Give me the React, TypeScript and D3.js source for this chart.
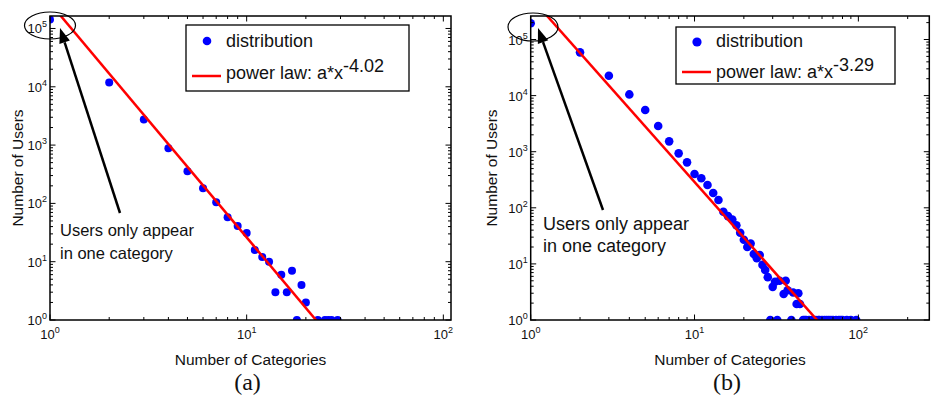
import React from 'react';
import * as d3 from 'd3';

// panel (a): number of categories per user vs number of users
const catsA = [1, 2, 3, 4, 5, 6, 7, 8, 9, 10, 11, 12, 13, 14, 15, 16, 17, 18, 19, 20, 23, 25, 26, 27, 29];
const usersA = [142000, 11900, 2760, 880, 355, 182, 105, 58, 41, 31, 15.8, 12, 10, 3, 6, 3, 7, 1, 4, 2, 1, 1, 1, 1, 1];
const fitA = [-4.02, 5.436]; // exponent, log10(a)

// panel (b)
const catsB = [
  1, 2, 3, 4, 5, 6, 7, 8, 9, 10, 11, 12, 13, 14, 15, 16, 17, 18, 19, 20,
  21, 22, 23, 24, 25, 26, 27, 28, 29, 30, 31, 32, 33, 35, 36, 37, 39, 40, 42, 43, 44,
  46, 47, 48, 50, 52, 53, 55, 57, 58, 60, 62, 64, 66, 68, 70, 73, 76, 78, 80, 85, 90, 97,
];
const usersB = [
  195000, 59000, 22600, 10500, 5530, 2870, 1530, 935, 646, 400, 336, 255, 184, 138, 85, 71, 62, 49, 36, 27,
  20, 23, 15, 12.6, 14.4, 9.6, 7.8, 5.8, 1, 3.9, 4.8, 1, 5, 2.9, 5, 3.4, 1, 3.1, 1.93, 3, 1.93,
  1, 1, 1, 1, 1, 1, 1, 1, 1, 1, 1, 1, 1, 1, 1, 1, 1, 1, 1, 1, 1, 1,
];
const fitB = [-3.29, 5.75];

const panelLabels = ['(a)', '(b)'];
const fitLabels = ['-4.02', '-3.29'];

const SANS = 'Liberation Sans, Arial, Helvetica, sans-serif';

const cfgA = {
  l: 50, r: 451, t: 16, b: 320, xMax: Math.pow(10, 2.039), yMax: Math.pow(10, 5.214), dot: 4,
  legend: { x: 186, y: 25, w: 223, h: 66, dotY: 41, textY: 47, lineY: 76, lawY: 79, supDy: -7.5 },
  ellipse: { cx: 50, cy: 25.5, rx: 25.5, ry: 13.5 },
  arrow: { x1: 120, y1: 213, x2: 60, y2: 28 },
  note: { x: 60, y: 236, dy: 22.5, size: 16.5 },
  yTitleX: 23, tickFont: 13,
};

const cfgB = {
  l: 530.7, r: 929.3, t: 16, b: 320, xMax: Math.pow(10, 2.433), yMax: Math.pow(10, 5.419), dot: 4.3,
  legend: { x: 676, y: 27, w: 219, h: 57, dotY: 42, textY: 47, lineY: 72, lawY: 77.5, supDy: -7 },
  ellipse: { cx: 533, cy: 27, rx: 25, ry: 14 },
  arrow: { x1: 603, y1: 210, x2: 538, y2: 28 },
  note: { x: 543, y: 230, dy: 22, size: 18 },
  yTitleX: 497, tickFont: 13,
};

function Panel({ cfg, cats, users, fit, label, fitLabel, id }: any) {
  const x = d3.scaleLog().domain([1, cfg.xMax]).range([cfg.l, cfg.r]);
  const y = d3.scaleLog().domain([1, cfg.yMax]).range([cfg.b, cfg.t]);
  const isMajor = (v: number) => Math.abs(Math.log10(v) - Math.round(Math.log10(v))) < 1e-9;
  const powerLaw = (v: number) => Math.pow(10, fit[1]) * Math.pow(v, fit[0]);
  const line = d3.line<number>().x(v => x(v)).y(v => y(powerLaw(v)));
  const xTicks = x.ticks();
  const yTicks = y.ticks();
  const major = 5.5, minor = 3;

  const a = cfg.arrow;
  const len = Math.hypot(a.x2 - a.x1, a.y2 - a.y1);
  const ux = (a.x2 - a.x1) / len, uy = (a.y2 - a.y1) / len;
  const hl = 15, hw = 5.5;
  const bx = a.x2 - ux * hl, by = a.y2 - uy * hl;
  const head = [[a.x2, a.y2], [bx - uy * hw, by + ux * hw], [bx + uy * hw, by - ux * hw]];

  const lg = cfg.legend;
  const cx = (cfg.l + cfg.r) / 2;
  const cy = (cfg.t + cfg.b) / 2;

  return (
    <g>
      <defs>
        <clipPath id={`clip-${id}`}>
          <rect x={cfg.l} y={cfg.t} width={cfg.r - cfg.l} height={cfg.b - cfg.t} />
        </clipPath>
      </defs>
      <g clipPath={`url(#clip-${id})`}>
        {cats.map((c: number, i: number) => (
          <circle key={i} cx={x(c)} cy={y(users[i])} r={cfg.dot} fill="#0000ff" />
        ))}
        <path d={line([1, cfg.xMax]) || ''} fill="none" stroke="#ff0000" strokeWidth={2.5} />
      </g>
      <rect x={cfg.l} y={cfg.t} width={cfg.r - cfg.l} height={cfg.b - cfg.t} fill="none" stroke="#000" strokeWidth={1.5} />
      {xTicks.map((v, i) => {
        const len2 = isMajor(v) ? major : minor;
        const px = x(v);
        return (
          <g key={i}>
            <line x1={px} x2={px} y1={cfg.b} y2={cfg.b - len2} stroke="#000" strokeWidth={1} />
            <line x1={px} x2={px} y1={cfg.t} y2={cfg.t + len2} stroke="#000" strokeWidth={1} />
            {isMajor(v) && (
              <text x={px} y={cfg.b + 18.5} textAnchor="middle" fontFamily={SANS} fontSize={cfg.tickFont} fill="#111">
                10<tspan dy={-5.5} fontSize={9}>{Math.round(Math.log10(v))}</tspan>
              </text>
            )}
          </g>
        );
      })}
      {yTicks.map((v, i) => {
        const len2 = isMajor(v) ? major : minor;
        const py = y(v);
        return (
          <g key={i}>
            <line x1={cfg.l} x2={cfg.l + len2} y1={py} y2={py} stroke="#000" strokeWidth={1} />
            <line x1={cfg.r} x2={cfg.r - len2} y1={py} y2={py} stroke="#000" strokeWidth={1} />
            {isMajor(v) && (
              <text x={cfg.l - 3} y={py + 5} textAnchor="end" fontFamily={SANS} fontSize={cfg.tickFont} fill="#111">
                10<tspan dy={-6} fontSize={9}>{Math.round(Math.log10(v))}</tspan>
              </text>
            )}
          </g>
        );
      })}
      <text x={cx} y={365} textAnchor="middle" fontFamily={SANS} fontSize={15.5} fill="#111">Number of Categories</text>
      <text transform={`translate(${cfg.yTitleX},${cy}) rotate(-90)`} textAnchor="middle" fontFamily={SANS} fontSize={15.5} fill="#111">Number of Users</text>
      <text x={cx - 3} y={390} textAnchor="middle" fontFamily="Liberation Serif, Times New Roman, serif" fontSize={24} fill="#111">{label}</text>

      <rect x={lg.x} y={lg.y} width={lg.w} height={lg.h} fill="#fff" stroke="#000" strokeWidth={1.3} />
      <circle cx={lg.x + 21} cy={lg.dotY} r={cfg.dot + 0.3} fill="#0000ff" />
      <text x={lg.x + 40} y={lg.textY} fontFamily={SANS} fontSize={18} fill="#111">distribution</text>
      <line x1={lg.x + 6} x2={lg.x + 35} y1={lg.lineY} y2={lg.lineY} stroke="#ff0000" strokeWidth={2.5} />
      <text x={lg.x + 40} y={lg.lawY} fontFamily={SANS} fontSize={18} fill="#111">
        power law: a*x<tspan dy={lg.supDy}>{fitLabel}</tspan>
      </text>

      <ellipse cx={cfg.ellipse.cx} cy={cfg.ellipse.cy} rx={cfg.ellipse.rx} ry={cfg.ellipse.ry} fill="none" stroke="#000" strokeWidth={1.2} />
      <line x1={a.x1} y1={a.y1} x2={bx} y2={by} stroke="#000" strokeWidth={2.5} />
      <polygon points={head.map(p => p.join(',')).join(' ')} fill="#000" />
      <text fontFamily={SANS} fontSize={cfg.note.size} fill="#111">
        <tspan x={cfg.note.x} y={cfg.note.y}>Users only appear</tspan>
        <tspan x={cfg.note.x} y={cfg.note.y + cfg.note.dy}>in one category</tspan>
      </text>
    </g>
  );
}

export default function App() {
  return (
    <svg width={931} height={399} style={{ position: 'absolute', left: 0, top: 0, background: '#fff' }}>
      <rect width={931} height={399} fill="#fff" />
      <Panel id="a" cfg={cfgA} cats={catsA} users={usersA} fit={fitA} label={panelLabels[0]} fitLabel={fitLabels[0]} />
      <Panel id="b" cfg={cfgB} cats={catsB} users={usersB} fit={fitB} label={panelLabels[1]} fitLabel={fitLabels[1]} />
    </svg>
  );
}
